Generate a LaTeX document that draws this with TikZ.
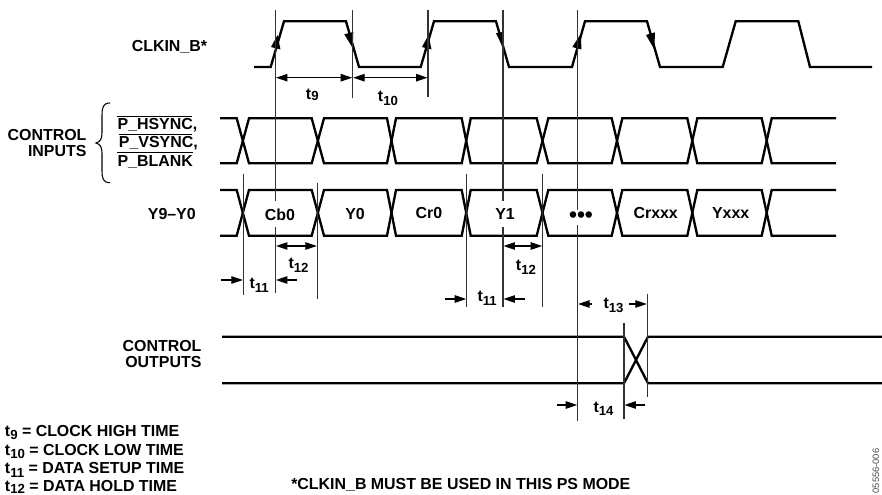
\documentclass[tikz,border=0pt]{standalone}
\usepackage{fontspec}
\setmainfont{Liberation Sans}
\usepackage{tikz}
\usetikzlibrary{arrows.meta}
\newcommand{\tlab}[2][-0.25em]{t\raisebox{#1}{\fontsize{9.9}{11}\selectfont #2}}
\tikzset{
  wave/.style={line width=1.75,line join=miter},
  guide/.style={line width=0.8,color=black!80},
  span/.style={line width=0.85,-{Triangle[length=8.6pt,width=5.6pt]}},
  twospan/.style={line width=0.85,{Triangle[length=8.6pt,width=5.6pt]}-{Triangle[length=8.6pt,width=5.6pt]}},
  edgetip/.style={fill=black,draw=none},
  lbl/.style={inner sep=0pt,font=\bfseries\fontsize{11.95}{14}\selectfont},
  celllbl/.style={lbl,fill=white,minimum height=19.5pt,inner xsep=1pt}
}
\begin{document}
\begin{tikzpicture}[x=0.75pt,y=0.75pt,yscale=-1,xscale=1]
        \useasboundingbox (0,0) rectangle (882,495);

        %Shape: Clock
        \draw [wave] (254,67) -- (270.7,67) -- (284,21.3) -- (346,21.3) -- (359,67) -- (420.7,67) -- (434,21.3) -- (496,21.3) -- (509,67) -- (572,67) -- (585,21.3) -- (647,21.3) -- (660,67) -- (722.7,67) -- (735.7,21.3) -- (798.3,21.3) -- (810,67) -- (872,67) ;
        %Shape: Clock edge tips
        \fill [edgetip] (277.5,35) -- (280.5,49.5) -- (271,47) -- cycle ;
        \fill [edgetip] (428.5,35) -- (431.5,49.5) -- (422,47) -- cycle ;
        \fill [edgetip] (580.7,34) -- (581.5,49.5) -- (572.3,47) -- cycle ;
        \fill [edgetip] (352.7,48) -- (344.3,34.3) -- (353.3,32) -- cycle ;
        \fill [edgetip] (503.3,48.3) -- (496,33.3) -- (504,31.7) -- cycle ;
        \fill [edgetip] (654.3,49.3) -- (646,35) -- (655,32.3) -- cycle ;

        %Shape: Control inputs bus
        \draw [wave] (220,118.3) -- (236.7,118.3) -- (249,163.3) -- (311.7,163.3) -- (324,118.3) -- (387,118.3) -- (396,163.3) -- (461.7,163.3) -- (470.7,118.3) -- (536.7,118.3) -- (548.3,163.3) -- (611.7,163.3) -- (622.3,118.3) -- (687.3,118.3) -- (697.3,163.3) -- (761.7,163.3) -- (771.7,118.3) -- (836,118.3) ;
        \draw [wave] (220,163.3) -- (236.7,163.3) -- (249,118.3) -- (311.7,118.3) -- (324,163.3) -- (387,163.3) -- (396,118.3) -- (461.7,118.3) -- (470.7,163.3) -- (536.7,163.3) -- (548.3,118.3) -- (611.7,118.3) -- (622.3,163.3) -- (687.3,163.3) -- (697.3,118.3) -- (761.7,118.3) -- (771.7,163.3) -- (836,163.3) ;
        %Shape: Data bus
        \draw [wave] (220,190) -- (236.7,190) -- (249,235.7) -- (311.7,235.7) -- (324,190) -- (387,190) -- (396,235.7) -- (461.7,235.7) -- (470.7,190) -- (536.7,190) -- (548.3,235.7) -- (611.7,235.7) -- (622.3,190) -- (687.3,190) -- (697.3,235.7) -- (761.7,235.7) -- (771.7,190) -- (836,190) ;
        \draw [wave] (220,235.7) -- (236.7,235.7) -- (249,190) -- (311.7,190) -- (324,235.7) -- (387,235.7) -- (396,190) -- (461.7,190) -- (470.7,235.7) -- (536.7,235.7) -- (548.3,190) -- (611.7,190) -- (622.3,235.7) -- (687.3,235.7) -- (697.3,190) -- (761.7,190) -- (771.7,235.7) -- (836,235.7) ;
        %Shape: Control outputs
        \draw [wave] (222,336.7) -- (624,336.7) -- (648,383.3) -- (882,383.3) ;
        \draw [wave] (222,383.3) -- (624,383.3) -- (648,336.7) -- (882,336.7) ;

        %Shape: Guide lines
        \draw [guide] (275.5,10) -- (275.5,293) ;
        \draw [guide] (352.7,10) -- (352.7,98) ;
        \draw [guide] (428,10) -- (428,97) ;
        \draw [guide] (503,10) -- (503,307) ;
        \draw [guide] (577.7,10) -- (577.7,421) ;
        \draw [guide] (243.3,174) -- (243.3,295) ;
        \draw [guide] (317.3,183) -- (317.3,299) ;
        \draw [guide] (466.7,174) -- (466.7,307) ;
        \draw [guide] (542.7,174) -- (542.7,307) ;
        \draw [guide] (624,323) -- (624,419) ;
        \draw [guide] (647.3,294) -- (647.3,397) ;

        %Shape: Brace
        \draw [line width=0.8] (110,103) .. controls (103,103) and (102,108) .. (102,115) -- (102,133) .. controls (102,139) and (100,142) .. (96,143) .. controls (100,144) and (102,147) .. (102,153) -- (102,171) .. controls (102,178) and (103,182.7) .. (110,182.7) ;

        %Shape: Overlines
        \draw [line width=0.7] (117.3,116) -- (191.7,116) ;
        \draw [line width=0.7] (118.7,134) -- (191.7,134) ;
        \draw [line width=0.7] (117.3,152.7) -- (192.7,152.7) ;

        %Shape: Timing spans
        \draw [twospan] (276,77.7) -- (352.2,77.7) ;
        \draw [twospan] (353.2,77.7) -- (427.5,77.7) ;
        \draw [twospan] (276,246) -- (316.8,246) ;
        \draw [twospan] (503.5,246) -- (542.2,246) ;
        \draw [span] (221.3,280) -- (242.8,280) ;
        \draw [span] (297,280) -- (276,280) ;
        \draw [span] (445,299) -- (466.2,299) ;
        \draw [span] (525,299) -- (503.5,299) ;
        \draw [span] (592.3,304) -- (578.2,304) ;
        \draw [span] (629,304) -- (646.8,304) ;
        \draw [span] (556.7,405) -- (577.2,405) ;
        \draw [span] (645,405) -- (624.5,405) ;

        % Text Node
        \draw (207.3,51.5) node (clkLbl) [anchor=base east][lbl]  {CLKIN\_B*};
        % Text Node
        \draw (86.7,141) node (ctlInA) [anchor=base east][lbl]  {CONTROL};
        % Text Node
        \draw (86.7,157) node (ctlInB) [anchor=base east][lbl]  {INPUTS};
        % Text Node
        \draw (117.3,130) node (hsyncLbl) [anchor=base west][lbl]  {P\_HSYNC,};
        % Text Node
        \draw (118.7,148) node (vsyncLbl) [anchor=base west][lbl]  {P\_VSYNC,};
        % Text Node
        \draw (117.3,166.7) node (blankLbl) [anchor=base west][lbl]  {P\_BLANK};
        % Text Node
        \draw (196,220) node (dataLbl) [anchor=base east][lbl]  {Y9–Y0};
        % Text Node
        \draw (280,214.5) node (cb0Lbl) [celllbl]  {Cb0};
        % Text Node
        \draw (355,214.3) node (y0Lbl) [lbl]  {Y0};
        % Text Node
        \draw (429,213.3) node (cr0Lbl) [lbl]  {Cr0};
        % Text Node
        \draw (505,214.5) node (y1Lbl) [celllbl]  {Y1};
        % Text Node
        \draw (581,217.5) node (dotsLbl) [lbl,fill=white,font=\bfseries\fontsize{17}{17}\selectfont,minimum height=11pt]  {•••};
        % Text Node
        \draw (655.7,213.5) node (crxLbl) [lbl]  {Crxxx};
        % Text Node
        \draw (730.7,213.5) node (yxLbl) [lbl]  {Yxxx};
        % Text Node
        \draw (201.7,352) node (ctlOutA) [anchor=base east][lbl]  {CONTROL};
        % Text Node
        \draw (201.7,368) node (ctlOutB) [anchor=base east][lbl]  {OUTPUTS};
        % Text Node
        \draw (305.7,100) node (t9Lbl) [anchor=base west][lbl]  {\tlab[-0.05em]{9}};
        % Text Node
        \draw (377.7,101.7) node (t10Lbl) [anchor=base west][lbl]  {\tlab{10}};
        % Text Node
        \draw (288.3,268.3) node (t12aLbl) [anchor=base west][lbl]  {\tlab{12}};
        % Text Node
        \draw (515.7,271) node (t12bLbl) [anchor=base west][lbl]  {\tlab{12}};
        % Text Node
        \draw (249.3,289) node (t11aLbl) [anchor=base west][lbl]  {\tlab{11}};
        % Text Node
        \draw (477.3,301.7) node (t11bLbl) [anchor=base west][lbl]  {\tlab{11}};
        % Text Node
        \draw (603.3,309) node (t13Lbl) [anchor=base west][lbl]  {\tlab{13}};
        % Text Node
        \draw (593.3,412) node (t14Lbl) [anchor=base west][lbl]  {\tlab{14}};
        % Text Node
        \draw (4.7,436) node (legA) [anchor=base west][lbl]  {\tlab{9} = CLOCK HIGH TIME};
        % Text Node
        \draw (4.7,455) node (legB) [anchor=base west][lbl]  {\tlab{10} = CLOCK LOW TIME};
        % Text Node
        \draw (4.7,473.3) node (legC) [anchor=base west][lbl]  {\tlab{11} = DATA SETUP TIME};
        % Text Node
        \draw (4.7,491) node (legD) [anchor=base west][lbl]  {\tlab[-0.18em]{12} = DATA HOLD TIME};
        % Text Node
        \draw (291,489.5) node (noteLbl) [anchor=base west][lbl]  {*CLKIN\_B MUST BE USED IN THIS PS MODE};
        % Text Node
        \draw (876,471) node (figLbl) [rotate=90,inner sep=0pt,text=black!70,font=\fontsize{7}{8}\selectfont]  {05556-006};
\end{tikzpicture}
\end{document}
